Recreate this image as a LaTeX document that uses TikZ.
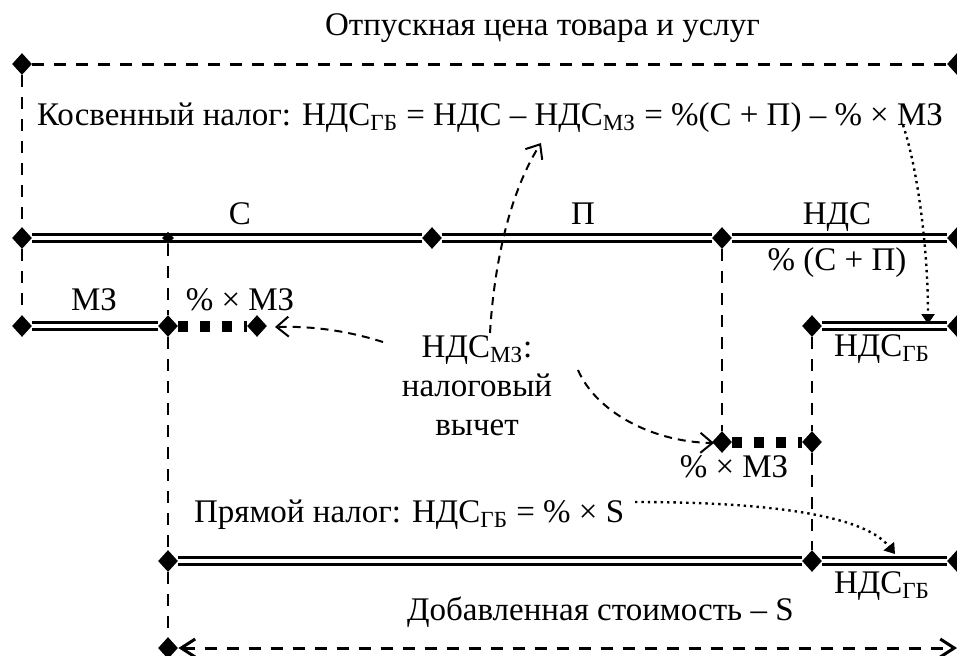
\documentclass[tikz,border=0pt]{standalone}
\usepackage{fontspec}
\setmainfont{Liberation Serif}
\usetikzlibrary{shapes.geometric,arrows.meta}

\begin{document}
\begin{tikzpicture}[
    x=0.5pt, y=-0.5pt,
    every node/.style={font=\fontsize{16.5pt}{19.5pt}\selectfont},
    losange/.style={diamond, fill, inner sep=0pt, minimum width=10pt, minimum height=11pt},
    point/.style={diamond, fill, inner sep=0pt, minimum width=6pt, minimum height=6pt},
    dbl/.style={double, line width=1.8pt, double distance=1.6pt},
    tirets/.style={line width=1pt, dash pattern=on 6pt off 5pt},
    cadre/.style={line width=1.5pt, dash pattern=on 6pt off 5pt},
    carres/.style={line width=5.5pt, dash pattern=on 5pt off 6pt},
    fleche/.style={line width=1pt, dash pattern=on 4pt off 3pt, -{Straight Barb[length=6pt,width=10pt]}},
    pointille/.style={line width=1.2pt, dotted, -{Triangle[length=5pt,width=6.5pt]}}
]
    \useasboundingbox (0,0) rectangle (957,655);

    % Titre
    \node[anchor=base west] (titre) at (318,35) {Отпускная цена товара и услуг};

    % Marqueurs
    \node[losange] (t0) at (22,64) {};
    \node[losange] (t1) at (957,64) {};
    \node[losange] (a0) at (22,238) {};
    \node[point] (a1) at (168,238) {};
    \node[losange] (a2) at (432,238) {};
    \node[losange] (a3) at (722,238) {};
    \node[losange] (a4) at (957,238) {};
    \node[losange] (b0) at (22,326) {};
    \node[losange] (b1) at (168,326) {};
    \node[losange] (b2) at (257,326) {};
    \node[losange] (g0) at (812,326) {};
    \node[losange] (g1) at (957,326) {};
    \node[losange] (c0) at (722,442) {};
    \node[losange] (c1) at (812,442) {};
    \node[losange] (d0) at (168,561) {};
    \node[losange] (d1) at (812,561) {};
    \node[losange] (d2) at (957,561) {};
    \node[losange] (e0) at (168,648) {};
    \coordinate (e1) at (957,648);

    % Ligne du prix
    \draw[cadre] (t0) -- (t1);
    \draw[dbl] (a0) -- (a2);
    \draw[dbl] (a2) -- (a3);
    \draw[dbl] (a3) -- (a4);
    \node[point] at (a1) {};
    \draw[dbl] (b0) -- (b1);
    \draw[dbl] (g0) -- (g1);
    \draw[dbl] (d0) -- (d1);
    \draw[dbl] (d1) -- (d2);

    % Verticales
    \draw[tirets] (t0) -- (a0);
    \draw[tirets] (a0) -- (b0);
    \draw[tirets] (a1) -- (b1);
    \draw[tirets] (b1) -- (d0);
    \draw[tirets] (d0) -- (e0);
    \draw[tirets] (a3) -- (c0);
    \draw[tirets] (g0) -- (c1);
    \draw[tirets] (c1) -- (d1);

    % Deductions
    \draw[carres] (b1) -- (b2);
    \draw[carres] (c0) -- (c1);

    % Valeur ajoutee
    \draw[cadre, {Straight Barb[length=7pt,width=9pt]}-{Straight Barb[length=7pt,width=9pt]}] (e0) -- (e1);

    % Textes
    \node[anchor=base west] (indirect) at (30,125)
        {Косвенный налог: НДС\textsubscript{ГБ} = НДС – НДС\textsubscript{МЗ} = \%(С + П) – \% × МЗ};
    \node[anchor=base] (lc) at (240,224) {С};
    \node[anchor=base] (lp) at (583,224) {П};
    \node[anchor=base] (lnds) at (837,224) {НДС};
    \node[anchor=base] (lpct) at (837,270) {\% (С + П)};
    \node[anchor=base] (lmz) at (94,310) {МЗ};
    \node[anchor=base] (lmz1) at (240,310) {\% × МЗ};
    \node[align=center] (vychet) at (477,386) {НДС\textsubscript{МЗ}:\\налоговый\\вычет};
    \node[anchor=base] (lmz2) at (734,477) {\% × МЗ};
    \node[anchor=base] (lgb1) at (882,356) {НДС\textsubscript{ГБ}};
    \node[anchor=base west] (direct) at (187,522) {Прямой налог: НДС\textsubscript{ГБ} = \% × S};
    \node[anchor=base] (lgb2) at (882,593) {НДС\textsubscript{ГБ}};
    \node[anchor=base west] (ajout) at (400,620) {Добавленная стоимость – S};

    % Fleches
    \coordinate (v1) at (490,333);
    \coordinate (v2) at (541,143);
    \coordinate (v3) at (383,342);
    \coordinate (v4) at (275,327);
    \coordinate (v5) at (578,370);
    \coordinate (v6) at (714,443);
    \draw[fleche] (v1) .. controls (493,280) and (505,200) .. (v2);
    \draw[fleche] (v3) .. controls (345,330) and (310,326) .. (v4);
    \draw[fleche] (v5) .. controls (595,410) and (650,442) .. (v6);

    \coordinate (p1) at (903,125);
    \coordinate (p2) at (928,324);
    \coordinate (p3) at (635,502);
    \coordinate (p4) at (895,554);
    \draw[pointille] (p1) .. controls (918,170) and (928,250) .. (p2);
    \draw[pointille] (p3) .. controls (740,502) and (860,510) .. (p4);
\end{tikzpicture}
\end{document}
